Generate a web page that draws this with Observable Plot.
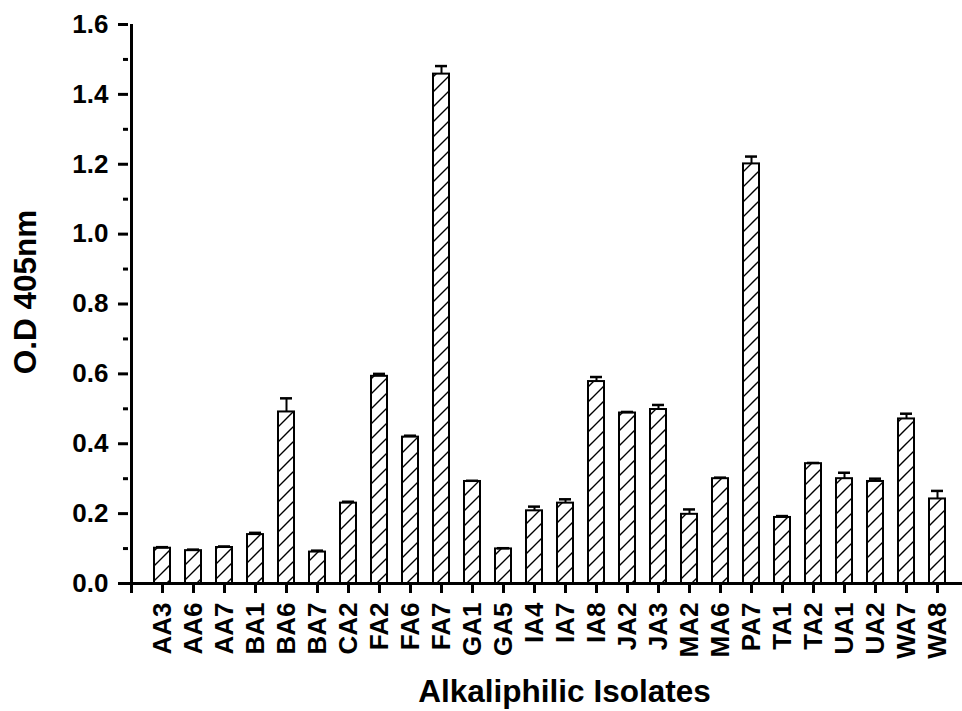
<!DOCTYPE html>
<html>
<head>
<meta charset="utf-8">
<script src="https://cdn.jsdelivr.net/npm/d3@7"></script>
<script src="https://cdn.jsdelivr.net/npm/@observablehq/plot@0.6"></script>
<style>
  html, body { margin: 0; padding: 0; background: #fff; }
  #chart svg { display: block; font-family: "Liberation Sans", Arial, sans-serif; }
</style>
</head>
<body>
<div id="chart"></div>
<script>
// Isolates (x categories), mean O.D at 405 nm and the upper error
const isolates = ["AA3","AA6","AA7","BA1","BA6","BA7","CA2","FA2","FA6","FA7","GA1","GA5","IA4",
                  "IA7","IA8","JA2","JA3","MA2","MA6","PA7","TA1","TA2","UA1","UA2","WA7","WA8"];
const od405 = [0.101,0.094,0.103,0.140,0.491,0.090,0.230,0.593,0.419,1.458,0.292,0.099,0.208,
               0.230,0.578,0.488,0.498,0.198,0.300,1.201,0.189,0.343,0.300,0.292,0.471,0.242];
const errors = [0.003,0.003,0.003,0.005,0.039,0.004,0.004,0.007,0.004,0.023,0.002,0.002,0.012,
                0.011,0.013,0.003,0.013,0.014,0.003,0.021,0.004,0.002,0.017,0.008,0.015,0.023];
const yMajorTicks = [0, 0.2, 0.4, 0.6, 0.8, 1.0, 1.2, 1.4, 1.6];
const yMinorTicks = [0.1, 0.3, 0.5, 0.7, 0.9, 1.1, 1.3, 1.5];
const xTitle = "Alkaliphilic Isolates";
const yTitle = "O.D 405nm";

const rows = isolates.map((name, i) => ({name, value: od405[i], err: errors[i]}));
// an empty leading slot sits on the y axis so the axis origin carries a tick
const xDomain = [""].concat(isolates);

const step = 31.24;
const x0 = 128 - step / 2;

const tickFontSize = 26;
const font = {fontSize: tickFontSize, fontWeight: "bold", fill: "#000"};
const titleFont = {fontSize: 31.5, fontWeight: "bold", fill: "#000"};

const chart = Plot.plot({
  width: 962,
  height: 711,
  marginTop: 24,
  marginBottom: 128,
  marginLeft: 128,
  marginRight: 0,
  style: {background: "#fff", color: "#000", fontSize: tickFontSize + "px",
          fontFamily: "'Liberation Sans', Arial, sans-serif"},
  x: {type: "band", domain: xDomain, range: [x0, x0 + step * xDomain.length],
      paddingInner: 0.5, paddingOuter: 0.25, align: 0.5, axis: null, label: null},
  y: {domain: [0, 1.6], axis: null, label: null},
  marks: [
    // bars with diagonal hatching
    Plot.barY(rows, {x: "name", y: "value", fill: "url(#hatch)", stroke: "#000", strokeWidth: 2}),
    // upper error bars
    Plot.ruleX(rows, {x: "name", y1: "value", y2: d => d.value + d.err, stroke: "#000", strokeWidth: 2}),
    Plot.tickY(rows, {x: "name", y: d => d.value + d.err, stroke: "#000", strokeWidth: 2.5,
                      insetLeft: 2, insetRight: 2}),
    // axes
    Plot.axisY({ticks: yMajorTicks, tickSize: 10, tickPadding: 10, strokeWidth: 3, label: null,
                tickFormat: d3.format(".1f"), ...font}),
    Plot.axisY({ticks: yMinorTicks, tickSize: 5, strokeWidth: 3, label: null, tickFormat: null, text: null}),
    Plot.axisX({ticks: xDomain, tickSize: 10, tickPadding: 9, strokeWidth: 3, label: null,
                tickRotate: -90, tickFormat: d => d, ...font}),
    Plot.ruleX([""], {x: d => d, y1: 0, y2: 1.6, stroke: "#000", strokeWidth: 3}),
    Plot.ruleY([0], {stroke: "#000", strokeWidth: 3}),
    // axis titles
    Plot.text([xTitle], {frameAnchor: "bottom", text: d => d, textAnchor: "middle", lineAnchor: "bottom",
                         dx: 19, dy: 118, ...titleFont}),
    Plot.text([yTitle], {frameAnchor: "left", text: d => d, textAnchor: "middle", lineAnchor: "middle",
                         rotate: -90, dx: -103, dy: -12, ...titleFont})
  ]
});

const svg = d3.select(chart);
// tick labels in bold at the larger size
svg.selectAll("g[aria-label='x-axis tick label'], g[aria-label='y-axis tick label']")
  .attr("font-size", tickFontSize)
  .attr("font-weight", "bold");

// hatch pattern referenced by the bar fill
const pattern = svg.insert("defs", ":first-child")
  .append("pattern")
  .attr("id", "hatch")
  .attr("patternUnits", "userSpaceOnUse")
  .attr("width", 15)
  .attr("height", 15);
pattern.append("rect").attr("width", 15).attr("height", 15).attr("fill", "#fff");
pattern.append("path")
  .attr("d", "M0,15 L15,0 M-2,2 L2,-2 M13,17 L17,13")
  .attr("stroke", "#000")
  .attr("stroke-width", 1.4);

document.getElementById("chart").appendChild(chart);
</script>
</body>
</html>
